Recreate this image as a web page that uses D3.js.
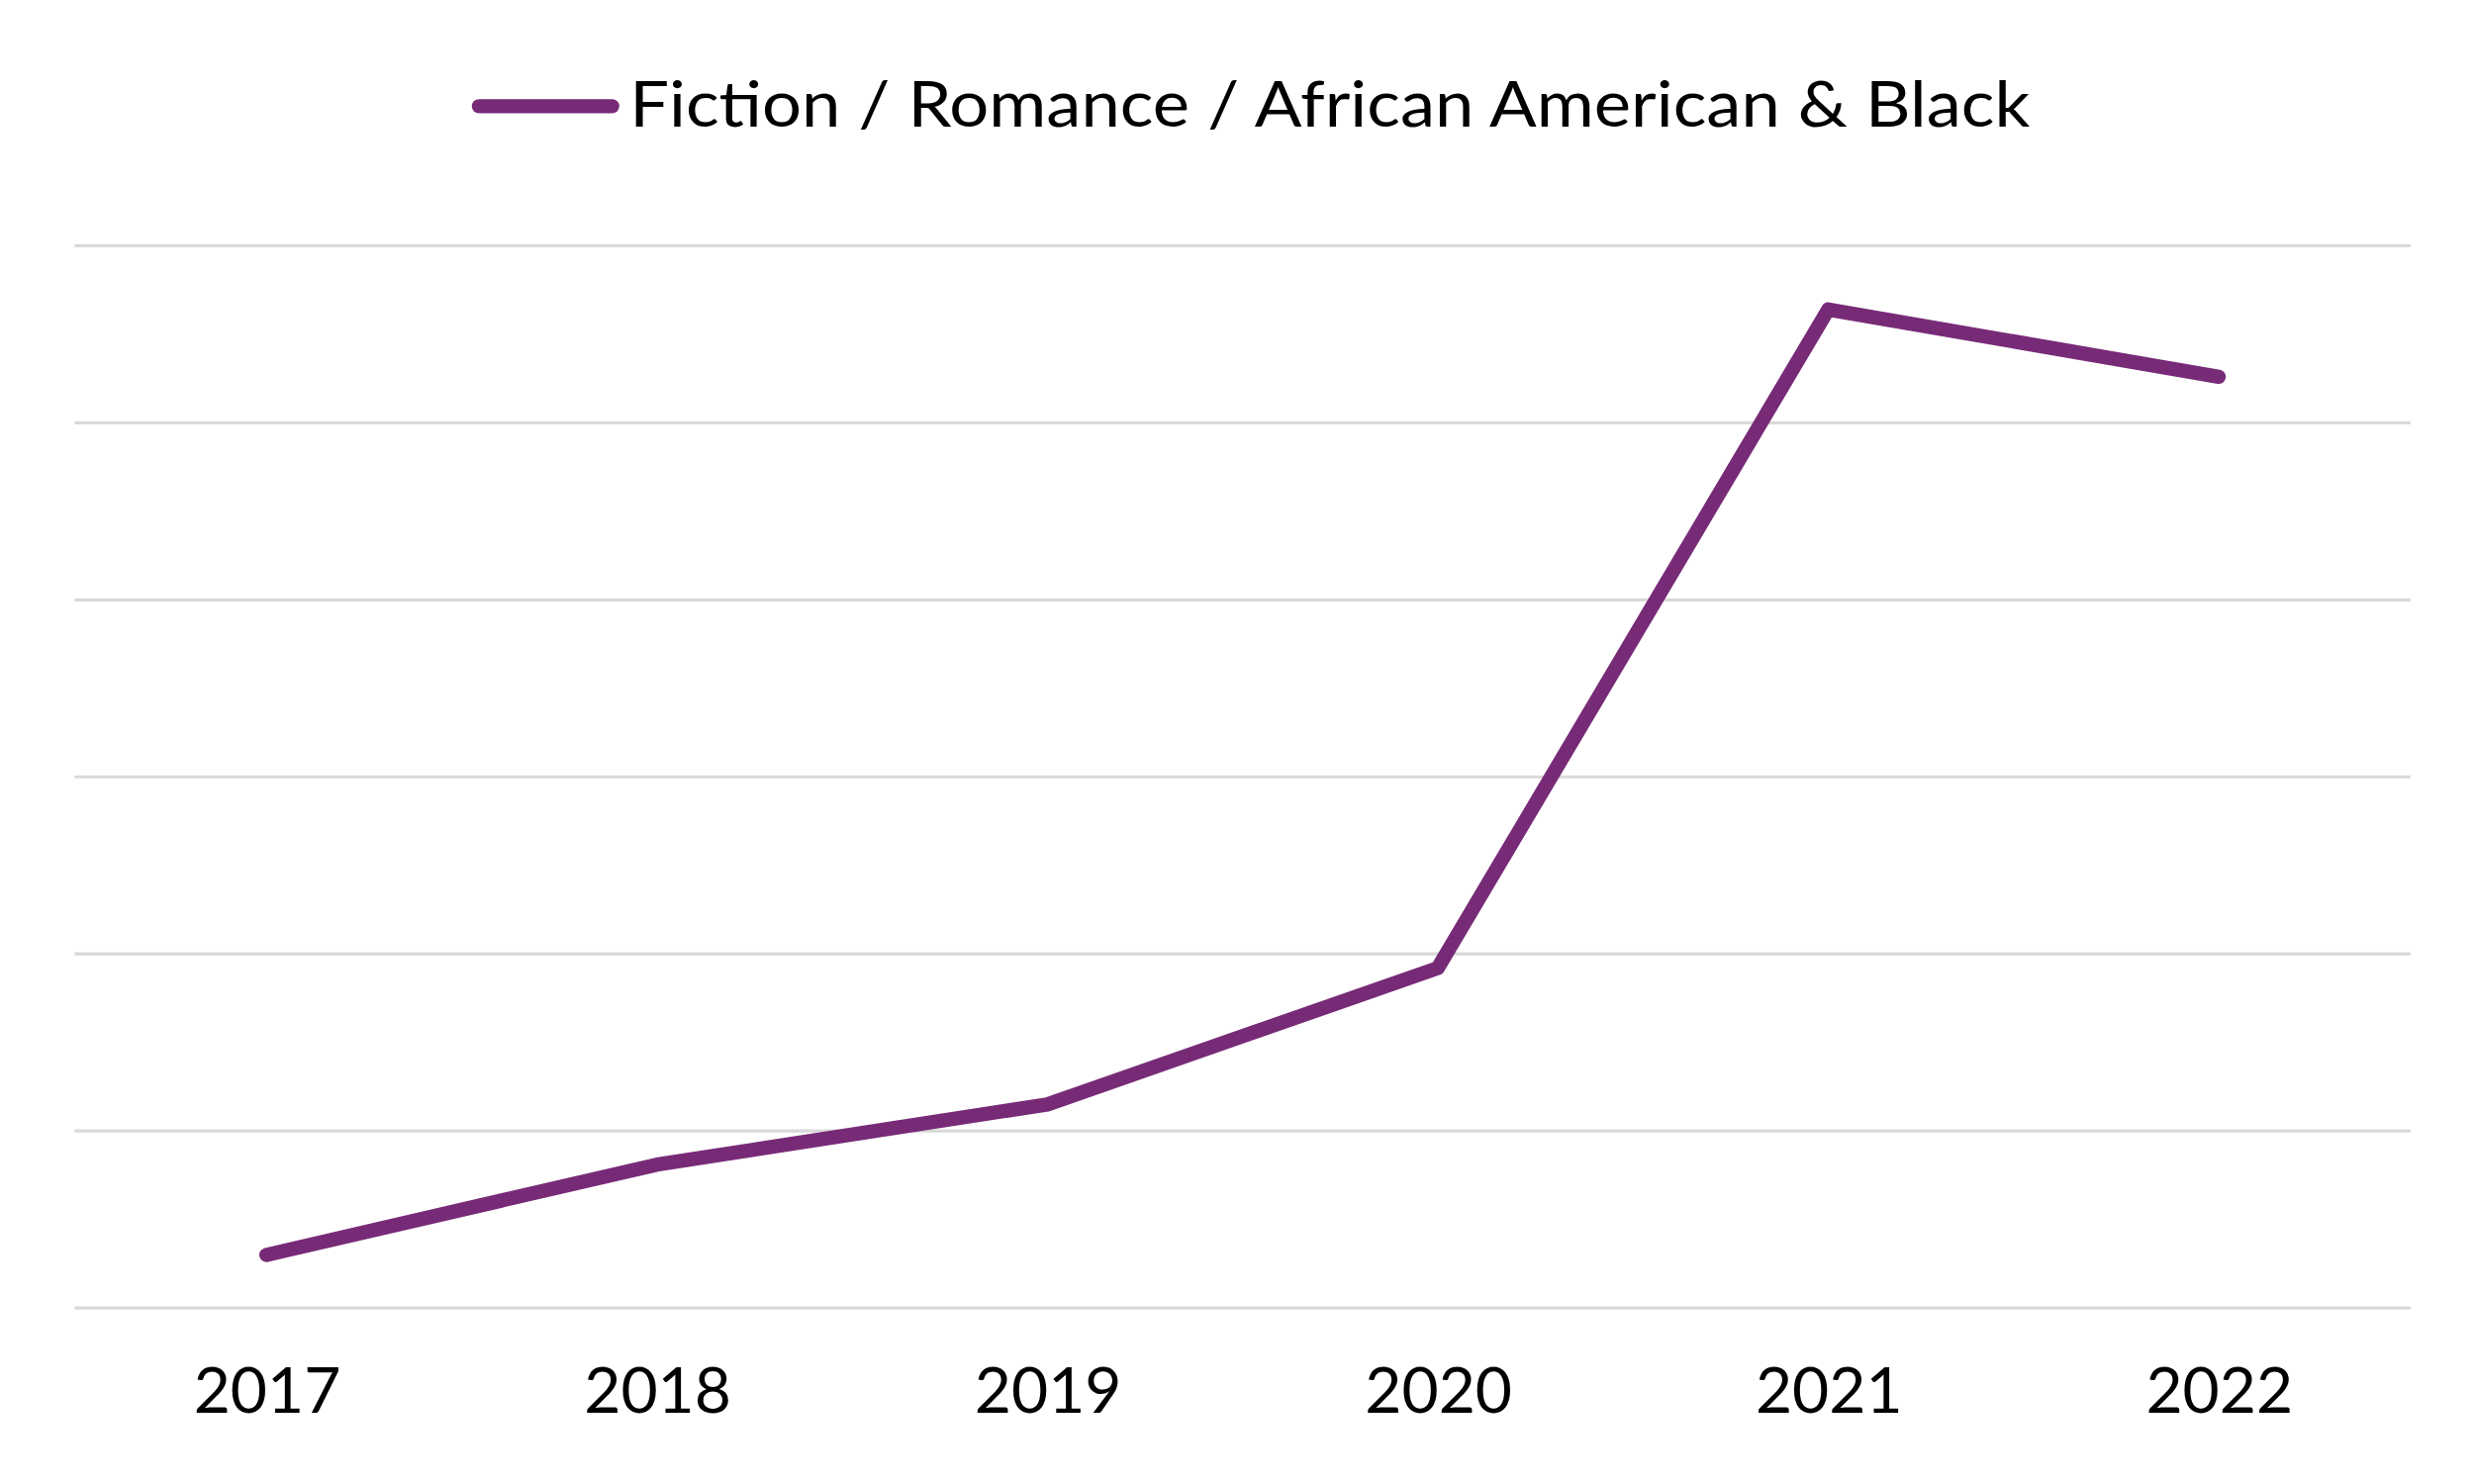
<!DOCTYPE html>
<html><head><meta charset="utf-8">
<script src="https://cdn.jsdelivr.net/npm/d3@7"></script>
<style>body{margin:0;background:#fff}</style></head>
<body><svg id="c" width="2500" height="1500" viewBox="0 0 1560 936"></svg>
<script>
const years = ["2017","2018","2019","2020","2021","2022"];
const values = [0.30, 0.81, 1.15, 1.92, 5.64, 5.26];
const gridTicks = [0,1,2,3,4,5,6];
const seriesName = "Fiction / Romance / African American & Black";

const svg = d3.select("#c");
const x = d3.scalePoint().domain(years).range([168,1399]);
const y = d3.scaleLinear().domain([0,6]).range([825,155]);

svg.append("g").selectAll("line").data(gridTicks).join("line")
  .attr("x1",47).attr("x2",1520).attr("y1",d=>y(d)).attr("y2",d=>y(d))
  .attr("stroke","#d9d9d9").attr("stroke-width",2);

const xa = svg.append("g").attr("transform","translate(0,825)")
  .call(d3.axisBottom(x).tickSize(0).tickPadding(30));
xa.select(".domain").remove();
xa.selectAll("text").attr("font-family","Lato, sans-serif").attr("font-size",40).attr("fill","#000").attr("dy","0.9em");

svg.append("path").datum(values)
  .attr("d", d3.line().x((d,i)=>x(years[i])).y(d=>y(d)))
  .attr("fill","none").attr("stroke","#772b77").attr("stroke-width",9)
  .attr("stroke-linecap","round").attr("stroke-linejoin","round");

svg.append("line").attr("x1",302).attr("x2",386).attr("y1",67).attr("y2",67)
  .attr("stroke","#772b77").attr("stroke-width",9).attr("stroke-linecap","round");
svg.append("text").attr("x",397).attr("y",80).text(seriesName)
  .attr("font-family","Lato, sans-serif").attr("font-size",40).attr("fill","#000")
  .attr("textLength",883).attr("lengthAdjust","spacingAndGlyphs");
</script></body></html>
